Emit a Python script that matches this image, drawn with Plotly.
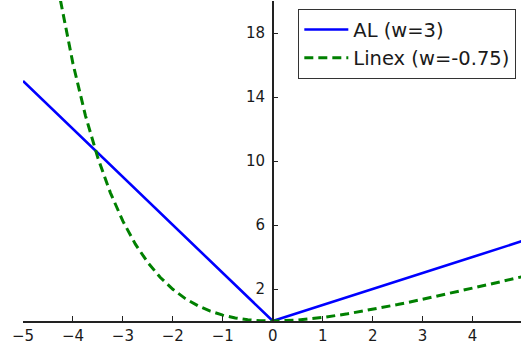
import plotly.graph_objects as go

# Data
al_x = [-5, 0, 5]
al_y = [15, 0, 5]

linex_x = [-4.25, -4.0, -3.75, -3.5, -3.25, -3.0, -2.75, -2.5, -2.25, -2.0, -1.75,
           -1.5, -1.25, -1.0, -0.75, -0.5, -0.25, 0.0, 0.5, 1.0, 1.5, 2.0, 2.5,
           3.0, 3.5, 4.0, 4.5, 5.0]
linex_y = [20.04, 16.09, 12.84, 10.18, 8.01, 6.24, 4.80, 3.65, 2.72, 1.98, 1.40,
           0.955, 0.616, 0.367, 0.193, 0.080, 0.019, 0.0, 0.062, 0.222, 0.450, 0.723,
           1.028, 1.355, 1.697, 2.050, 2.409, 2.774]

x_ticks = [-5, -4, -3, -2, -1, 0, 1, 2, 3, 4]
y_ticks = [2, 6, 10, 14, 18]

X_MIN, X_MAX = -5, 4.97
Y_MIN, Y_MAX = 0, 20

font_family = "DejaVu Sans"

fig = go.Figure()
fig.add_trace(go.Scatter(x=al_x, y=al_y, mode="lines", name="AL (w=3)",
                         line=dict(color="#0000ff", width=2.6)))
fig.add_trace(go.Scatter(x=linex_x, y=linex_y, mode="lines", name="Linex (w=-0.75)",
                         line=dict(color="#008000", width=3, dash="9px,5px")))

ypos = (0 - X_MIN) / (X_MAX - X_MIN)

fig.update_layout(
    width=521, height=347,
    margin=dict(l=23, r=0, t=1, b=26, autoexpand=False),
    plot_bgcolor="white", paper_bgcolor="white",
    font=dict(family=font_family, size=15, color="#1a1a1a"),
    showlegend=True,
    legend=dict(
        x=0.99, xanchor="right", y=0.975, yanchor="top",
        bgcolor="white", bordercolor="#333333", borderwidth=1.3,
        font=dict(family=font_family, size=19.5, color="#1a1a1a"),
        itemwidth=44,
    ),
    xaxis=dict(
        range=[X_MIN, X_MAX], tickvals=x_ticks, ticks="inside", ticklen=5,
        tickcolor="#222222", showline=True, linecolor="#222222", linewidth=1.5,
        showgrid=False, zeroline=False, mirror=False,
    ),
    yaxis=dict(
        range=[Y_MIN, Y_MAX], tickvals=y_ticks, ticks="inside", ticklen=5,
        tickcolor="#222222", showline=True, linecolor="#222222", linewidth=1.5,
        showgrid=False, zeroline=False, anchor="free", position=ypos,
        side="left", ticklabelstandoff=4,
    ),
)

fig.write_html("out.html", config={"displayModeBar": False},
               post_script="document.body.style.margin='0';")
